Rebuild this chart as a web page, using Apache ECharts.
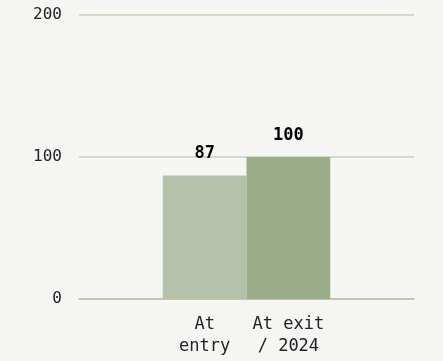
<!DOCTYPE html>
<html><head><meta charset="utf-8">
<script src="https://cdn.jsdelivr.net/npm/echarts@6/dist/echarts.min.js"></script>
<style>html,body{margin:0;padding:0;background:#f5f6f3;}#c{width:443px;height:361px;}</style>
</head><body><div id="c"></div>
<script>
const categories = ["", "At\nentry", "At exit\n/ 2024", ""];
const values = [null, 87, 100, null];
const barColors = ["#b5c2a9", "#b5c2a9", "#9bac89", "#9bac89"];
const yTicks = [0, 100, 200];

const font = "DejaVu Sans Mono";
const chart = echarts.init(document.getElementById('c'), null, {renderer: 'canvas'});
chart.setOption({
  backgroundColor: '#f5f6f3',
  animation: false,
  grid: {left: 79, right: 29, top: 15, bottom: 62},
  xAxis: {
    type: 'category', data: categories,
    axisTick: {show: false},
    axisLine: {lineStyle: {color: '#b3c2a3', width: 1.5}},
    axisLabel: {color: '#222', fontFamily: font, fontSize: 17, lineHeight: 22, margin: 15, interval: 0}
  },
  yAxis: {
    type: 'value', min: yTicks[0], max: yTicks[yTicks.length-1], interval: 100,
    axisLine: {show: false}, axisTick: {show: false},
    splitLine: {lineStyle: {color: '#c8d1bd', width: 1.5}},
    axisLabel: {color: '#222', fontFamily: font, fontSize: 16, margin: 17}
  },
  series: [{
    type: 'bar', data: values.map((v, i) => ({value: v, itemStyle: {color: barColors[i]}})),
    barWidth: '100%',
    label: {show: true, position: 'top', color: '#000', fontFamily: font, fontSize: 17, fontWeight: 'bold', distance: 13}
  }]
});
</script></body></html>
